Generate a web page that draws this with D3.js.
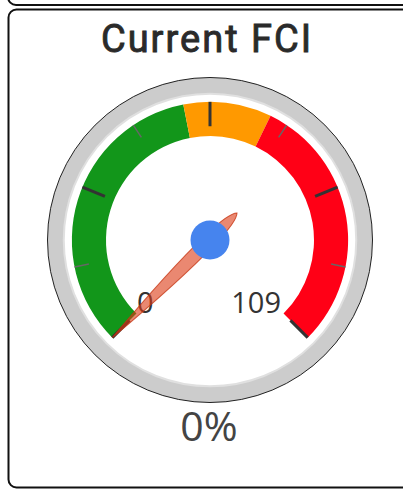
<!DOCTYPE html>
<html>
<head>
<meta charset="utf-8">
<script src="https://cdn.jsdelivr.net/npm/d3@7"></script>
<style>
  html, body { margin: 0; padding: 0; background: #fff; overflow: hidden; }
  svg { display: block; }
</style>
</head>
<body>
<div id="chart"></div>
<script>
// gauge data
const title = "Current FCI";
const gaugeMin = 0;
const gaugeMax = 109;
const gaugeValue = 0;
const bandFrom = [0, 50, 65];
const bandTo = [50, 65, 109];
const bandColors = ["#12961a", "#ff9900", "#ff0016"];
const majorTicks = 5;
const minorTicks = 2;

const W = 403, H = 490;
const cx = 210, cy = 240, R = 162.5;

const svg = d3.select("#chart").append("svg")
  .attr("width", W)
  .attr("height", H);

// panel borders
svg.append("rect")
  .attr("x", 8).attr("y", -480).attr("width", 420).attr("height", 485)
  .attr("rx", 8).attr("fill", "none").attr("stroke", "#111").attr("stroke-width", 2);
svg.append("rect")
  .attr("x", 8.5).attr("y", 9.5).attr("width", 420).attr("height", 478)
  .attr("rx", 8).attr("fill", "none").attr("stroke", "#111").attr("stroke-width", 2);

svg.append("text")
  .attr("x", cx - 3).attr("y", 52)
  .attr("text-anchor", "middle")
  .style("font-family", "Roboto")
  .style("font-weight", 400)
  .style("font-size", "38px")
  .style("letter-spacing", "2px")
  .attr("fill", "#2a2a2a")
  .attr("stroke", "#2a2a2a").attr("stroke-width", 0.9)
  .text(title);

const angle = d3.scaleLinear()
  .domain([gaugeMin, gaugeMax])
  .range([-135 * Math.PI / 180, 135 * Math.PI / 180]);

const g = svg.append("g").attr("transform", `translate(${cx},${cy})`);

g.append("circle").attr("r", R)
  .attr("fill", "#ccc").attr("stroke", "#222").attr("stroke-width", 1);
g.append("circle").attr("r", R * 0.9)
  .attr("fill", "#fff").attr("stroke", "#e0e0e0").attr("stroke-width", 2);

const arc = d3.arc().innerRadius(R * 0.64).outerRadius(R * 0.85);
g.selectAll("path.band")
  .data(bandFrom.map((f, i) => ({from: f, to: bandTo[i], color: bandColors[i]})))
  .enter().append("path")
  .attr("class", "band")
  .attr("d", d => arc({startAngle: angle(d.from), endAngle: angle(d.to)}))
  .attr("fill", d => d.color);

// ticks
const majorVals = d3.range(majorTicks).map(i => gaugeMin + i * (gaugeMax - gaugeMin) / (majorTicks - 1));
const minorVals = [];
for (let i = 0; i < majorTicks - 1; i++) {
  for (let j = 1; j < minorTicks; j++) {
    minorVals.push(majorVals[i] + j * (majorVals[i + 1] - majorVals[i]) / minorTicks);
  }
}
const polar = (v, r) => [r * Math.sin(angle(v)), -r * Math.cos(angle(v))];

g.selectAll("line.minor")
  .data(minorVals)
  .enter().append("line")
  .attr("class", "minor")
  .attr("x1", d => polar(d, R * 0.85)[0]).attr("y1", d => polar(d, R * 0.85)[1])
  .attr("x2", d => polar(d, R * 0.76)[0]).attr("y2", d => polar(d, R * 0.76)[1])
  .attr("stroke", "#666").attr("stroke-width", 1.5);

g.selectAll("line.major")
  .data(majorVals)
  .enter().append("line")
  .attr("class", "major")
  .attr("x1", d => polar(d, R * 0.85)[0]).attr("y1", d => polar(d, R * 0.85)[1])
  .attr("x2", d => polar(d, R * 0.7)[0]).attr("y2", d => polar(d, R * 0.7)[1])
  .attr("stroke", "#333").attr("stroke-width", 3);

// min / max labels
g.append("text")
  .attr("x", -73).attr("y", 73)
  .attr("text-anchor", "start")
  .style("font-family", "Open Sans")
  .style("font-size", "29px")
  .attr("fill", "#333")
  .text(gaugeMin);
g.append("text")
  .attr("x", 71).attr("y", 73)
  .attr("text-anchor", "end")
  .style("font-family", "Open Sans")
  .style("font-size", "29px")
  .attr("fill", "#333")
  .text(gaugeMax);

// needle
const a = angle(gaugeValue);
const tipR = R * 0.85, backR = R * 0.235, halfW = 6.5;
const needle = d3.path();
needle.moveTo(0, -tipR);
needle.quadraticCurveTo(halfW * 1.2, -tipR * 0.35, halfW, 0);
needle.quadraticCurveTo(halfW * 0.9, backR * 0.85, 0, backR);
needle.quadraticCurveTo(-halfW * 0.9, backR * 0.85, -halfW, 0);
needle.quadraticCurveTo(-halfW * 1.2, -tipR * 0.35, 0, -tipR);
needle.closePath();
g.append("path")
  .attr("d", needle.toString())
  .attr("transform", `rotate(${a * 180 / Math.PI})`)
  .attr("fill", "#dc3912").attr("fill-opacity", 0.6)
  .attr("stroke", "#c63310").attr("stroke-opacity", 0.8).attr("stroke-width", 1);

g.append("circle").attr("r", R * 0.12).attr("fill", "#4684ee");

// value text
svg.append("text")
  .attr("x", cx - 1).attr("y", 441)
  .attr("text-anchor", "middle")
  .style("font-family", "Open Sans")
  .style("font-size", "41px")
  .attr("fill", "#444")
  .text(Math.round((gaugeValue - gaugeMin) / (gaugeMax - gaugeMin) * 100) + "%");
</script>
</body>
</html>
